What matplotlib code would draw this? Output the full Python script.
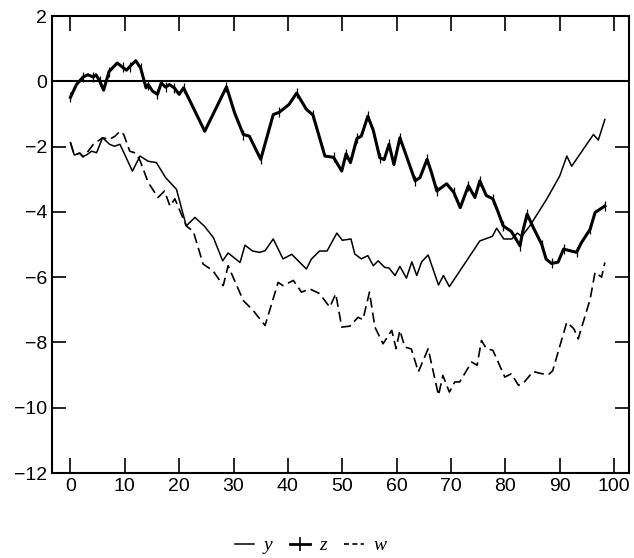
import numpy as np
import matplotlib.pyplot as plt
from matplotlib.lines import Line2D

plt.rcParams['font.family'] = ['Liberation Sans', 'DejaVu Sans']

# series
z_x = [0, 1.1, 2.3, 3.2, 4.2, 4.7, 5.4, 6.1, 7.1, 8.6, 9.6, 10.3, 10.9, 12.0, 12.9,
       13.9, 14.3, 15.1, 16.0, 16.7, 17.5, 18.2, 19.1, 20.0, 20.8, 24.7, 28.7, 30.2,
       31.8, 32.9, 35.0, 37.3, 38.4, 40.2, 41.6, 43.4, 44.6, 46.8, 48.4, 49.9, 50.7,
       51.5, 52.7, 53.5, 54.7, 55.7, 56.9, 57.7, 58.6, 59.5, 60.6, 61.8, 63.4, 64.3,
       65.6, 66.4, 67.4, 69.2, 70.5, 71.7, 73.2, 74.4, 75.3, 76.5, 77.7, 78.7, 79.6,
       81.1, 82.7, 83.2, 84.0, 85.2, 86.7, 87.5, 88.5, 89.7, 90.7, 91.9, 93.1, 94.0,
       95.6, 96.5, 98.3]
z_y = [-0.49, -0.1, 0.13, 0.2, 0.13, 0.2, 0.0, -0.27, 0.3, 0.56, 0.43, 0.34, 0.45, 0.63, 0.41,
       -0.2, -0.1, -0.3, -0.4, -0.05, -0.18, -0.1, -0.2, -0.4, -0.2, -1.53, -0.17, -0.97,
       -1.63, -1.68, -2.39, -1.02, -0.95, -0.71, -0.36, -0.86, -1.03, -2.29, -2.33, -2.75, -2.22,
       -2.49, -1.75, -1.68, -1.07, -1.5, -2.34, -2.4, -1.93, -2.55, -1.73, -2.29, -3.05, -2.95,
       -2.39, -2.79, -3.36, -3.14, -3.4, -3.87, -3.2, -3.56, -3.05, -3.5, -3.6, -4.02, -4.43,
       -4.6, -5.04, -4.6, -4.07, -4.5, -5.0, -5.45, -5.58, -5.54, -5.14, -5.19, -5.24, -4.94,
       -4.53, -4.02, -3.82]

y_x = [0, 0.7, 1.7, 2.3, 3.0, 3.9, 4.8, 5.9, 7.2, 8.1, 9.1, 11.4, 12.8, 14.3, 15.8, 17.5,
       19.5, 21.3, 22.9, 24.7, 26.3, 28.0, 29.0, 31.2, 32.1, 33.5, 34.8, 35.8, 37.3, 39.1,
       40.7, 43.4, 44.3, 45.8, 47.2, 49.0, 50.0, 51.6, 52.3, 53.5, 54.7, 55.7, 56.6, 57.8,
       58.6, 59.7, 60.6, 61.8, 62.8, 63.7, 64.6, 65.8, 67.7, 68.6, 69.7, 75.3, 77.6, 78.4,
       79.7, 81.2, 82.2, 83.0, 84.5, 87.6, 90.0, 91.3, 92.2, 96.2, 97.1, 98.3]
y_y = [-1.88, -2.26, -2.2, -2.31, -2.25, -2.14, -2.19, -1.73, -1.93, -1.99, -1.93, -2.75, -2.29,
       -2.45, -2.49, -2.95, -3.31, -4.43, -4.17, -4.45, -4.79, -5.5, -5.26, -5.55, -5.02, -5.2,
       -5.24, -5.19, -4.83, -5.44, -5.3, -5.75, -5.45, -5.2, -5.2, -4.65, -4.87, -4.83, -5.29,
       -5.44, -5.34, -5.65, -5.5, -5.7, -5.72, -5.95, -5.67, -6.03, -5.53, -5.95, -5.53, -5.32,
       -6.24, -5.95, -6.29, -4.89, -4.75, -4.5, -4.83, -4.83, -4.65, -4.75, -4.43, -3.61, -2.9,
       -2.29, -2.6, -1.63, -1.8, -1.17]

w_x = [0, 0.7, 1.7, 2.3, 3.0, 4.2, 5.9, 7.2, 8.2, 9.1, 9.8, 10.9, 12.0, 12.8, 14.3, 16.1,
       17.3, 18.3, 19.2, 21.3, 22.6, 24.4, 26.2, 28.1, 29.0, 31.8, 33.5, 35.8, 38.2, 39.1,
       41.0, 42.5, 44.0, 45.8, 47.7, 48.8, 49.9, 51.4, 52.9, 53.8, 55.0, 56.0, 57.5, 59.1,
       59.9, 60.6, 61.5, 62.7, 64.0, 65.8, 67.7, 68.5, 69.7, 70.7, 71.6, 73.8, 74.8, 75.6,
       76.5, 77.7, 79.9, 81.1, 82.4, 83.3, 85.1, 86.5, 87.9, 88.7, 91.3, 92.6, 93.4, 95.6,
       96.5, 97.7, 98.3]
w_y = [-1.88, -2.26, -2.2, -2.31, -2.2, -1.93, -1.73, -1.78, -1.68, -1.53, -1.63, -2.14, -2.2,
       -2.43, -3.1, -3.56, -3.36, -3.82, -3.6, -4.43, -4.6, -5.6, -5.8, -6.26, -5.65, -6.72,
       -7.0, -7.48, -6.16, -6.26, -6.1, -6.46, -6.36, -6.5, -6.92, -6.51, -7.53, -7.5, -7.23,
       -7.3, -6.46, -7.53, -8.04, -7.63, -8.19, -7.63, -8.14, -8.2, -8.9, -8.19, -9.62, -9.01,
       -9.52, -9.21, -9.21, -8.6, -8.7, -7.94, -8.19, -8.24, -9.06, -8.96, -9.31, -9.25, -8.89,
       -8.95, -8.99, -8.87, -7.38, -7.58, -7.89, -6.67, -5.85, -6.0, -5.55]

x_ticks = [0, 10, 20, 30, 40, 50, 60, 70, 80, 90, 100]
y_ticks = [2, 0, -2, -4, -6, -8, -10, -12]

fig = plt.figure(figsize=(6.34, 5.58), dpi=100)
ax = fig.add_axes([0.082, 0.1523, 0.9106, 0.819])

ax.axhline(0, color='black', lw=1.5)
ax.plot(y_x, y_y, color='black', lw=1.1)
ax.plot(z_x, z_y, color='black', lw=2.2, marker='|', markersize=7, markeredgewidth=0.9,
        markevery=2)
ax.plot(w_x, w_y, color='black', lw=1.2, linestyle=(0, (6, 3)))

ax.set_xlim(-3.4, 102.8)
ax.set_ylim(-12, 2)
ax.set_xticks(x_ticks)
ax.set_yticks(y_ticks)
ax.set_yticklabels([str(v).replace('-', '\u2212') for v in y_ticks])
ax.tick_params(axis='x', direction='in', length=11, width=1.2, top=True, labelsize=14)
ax.tick_params(axis='y', direction='in', length=10, width=1.2, right=True, labelsize=14)
for s in ax.spines.values():
    s.set_linewidth(1.5)

handles = [
    Line2D([], [], color='black', lw=1.1),
    Line2D([], [], color='black', lw=2.0, marker='|', markersize=10, markeredgewidth=1.2),
    Line2D([], [], color='black', lw=1.2, linestyle=(0, (3, 2))),
]
fig.legend(handles, ['y', 'z', 'w'], loc='lower center', bbox_to_anchor=(0.49, -0.025),
           ncol=3, frameon=False, handlelength=1.0, columnspacing=0.9, handletextpad=0.5,
           prop={'family': 'Liberation Serif', 'style': 'italic', 'size': 14})

fig.savefig('out.png', dpi=100)
